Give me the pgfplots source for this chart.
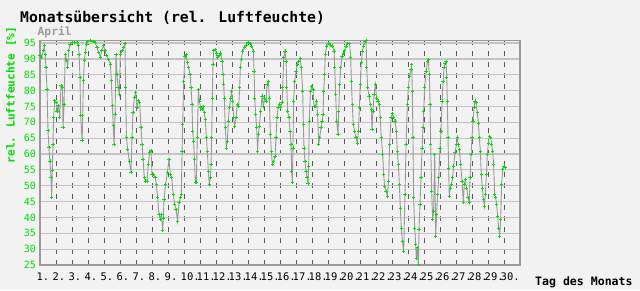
\documentclass[border=0pt]{standalone}
\usepackage{fontspec}
\setmainfont{DejaVu Sans Mono}
\usepackage{pgfplots}
\usepackage{pgfplotstable}
\pgfplotsset{compat=1.18}
\definecolor{bg}{HTML}{F2F2F2}
\definecolor{grn}{HTML}{00DD00}
\definecolor{gridc}{HTML}{C4C4C4}
\definecolor{dashc}{HTML}{5A5A5A}
\definecolor{linec}{HTML}{999999}
\definecolor{framec}{HTML}{999999}
\pgfplotstableread{
x y
1.00 91.0
1.10 90.5
1.21 92.6
1.27 94.2
1.33 91.5
1.37 87.3
1.44 80.3
1.50 67.3
1.56 62.1
1.62 57.8
1.69 52.6
1.73 46.3
1.77 54.7
1.81 63.1
1.85 71.5
1.92 76.8
2.00 76.3
2.06 73.6
2.15 75.2
2.23 71.5
2.31 81.5
2.40 81.0
2.44 68.4
2.50 75.7
2.58 91.5
2.67 89.4
2.73 87.3
2.79 92.6
2.88 94.5
3.00 95.2
3.15 95.2
3.31 95.2
3.40 94.2
3.44 91.5
3.50 84.2
3.54 72.1
3.63 64.2
3.67 72.1
3.71 83.1
3.77 89.4
3.83 92.1
3.90 94.7
3.98 95.6
4.15 95.7
4.31 95.6
4.44 95.2
4.56 93.6
4.67 92.1
4.77 90.5
4.85 92.6
4.98 94.2
5.06 92.6
5.17 91.0
5.27 89.9
5.40 88.4
5.46 83.1
5.52 75.2
5.58 68.9
5.63 63.1
5.69 72.6
5.75 91.5
5.81 85.2
5.88 81.0
5.96 78.9
6.02 91.5
6.13 92.6
6.23 93.6
6.31 94.9
6.35 81.0
6.40 65.2
6.48 61.5
6.58 57.8
6.69 54.2
6.75 65.2
6.81 73.1
6.90 77.8
6.98 79.4
7.06 74.7
7.15 76.8
7.23 76.3
7.31 68.4
7.38 63.1
7.44 58.4
7.52 52.6
7.60 51.5
7.69 51.5
7.77 56.8
7.85 60.5
7.94 61.0
8.00 53.6
8.10 53.6
8.19 52.6
8.27 50.5
8.35 46.3
8.44 41.0
8.52 39.4
8.58 40.9
8.67 35.8
8.71 39.8
8.75 45.6
8.85 50.4
8.96 54.1
9.06 58.3
9.15 53.5
9.23 52.5
9.33 47.2
9.42 44.1
9.50 42.5
9.60 38.8
9.69 44.6
9.77 46.2
9.83 47.2
9.88 60.9
9.92 69.3
9.98 83.0
10.06 90.9
10.13 91.4
10.21 88.8
10.29 87.2
10.38 85.1
10.44 80.9
10.50 75.6
10.54 67.2
10.60 64.1
10.65 58.3
10.71 51.2
10.77 50.9
10.83 65.1
10.90 80.4
10.96 76.7
11.04 74.6
11.13 74.1
11.19 75.1
11.27 73.0
11.33 70.9
11.40 65.1
11.46 60.9
11.52 54.6
11.58 50.4
11.65 52.5
11.69 56.7
11.73 65.1
11.77 77.7
11.81 88.3
11.85 92.7
11.94 93.0
12.02 91.9
12.10 90.4
12.19 91.2
12.29 91.9
12.38 89.3
12.44 85.1
12.48 81.9
12.52 77.7
12.58 68.3
12.65 61.9
12.71 64.1
12.77 70.4
12.83 74.6
12.92 77.7
12.98 79.8
13.04 76.7
13.10 71.4
13.17 68.8
13.25 71.4
13.33 75.6
13.42 75.1
13.48 80.9
13.52 87.2
13.58 89.8
13.67 92.5
13.77 93.5
13.88 94.4
14.00 95.1
14.13 94.8
14.23 94.1
14.33 92.5
14.38 86.2
14.42 77.7
14.48 72.5
14.54 68.3
14.60 60.9
14.65 66.2
14.71 68.8
14.79 73.5
14.88 78.3
14.96 75.1
15.04 77.7
15.13 76.7
15.19 82.0
15.27 83.0
15.33 77.7
15.40 66.2
15.46 60.9
15.52 56.7
15.60 57.7
15.69 59.3
15.75 65.1
15.81 71.4
15.88 74.6
15.96 75.8
16.04 74.6
16.13 76.2
16.17 80.9
16.23 90.4
16.31 92.5
16.38 89.3
16.42 80.9
16.48 73.5
16.56 71.4
16.63 67.2
16.69 63.0
16.73 54.6
16.77 50.9
16.81 61.9
16.85 76.7
16.92 83.0
17.00 86.2
17.08 88.3
17.17 89.3
17.27 90.2
17.33 87.2
17.42 79.8
17.46 69.3
17.50 61.9
17.56 57.7
17.63 54.6
17.69 52.5
17.75 50.6
17.79 56.2
17.83 70.4
17.90 79.8
17.98 81.4
18.06 80.4
18.13 75.1
18.21 75.1
18.29 76.7
18.35 72.5
18.42 63.0
18.48 65.1
18.56 68.3
18.63 70.4
18.69 72.5
18.73 79.8
18.79 85.1
18.83 91.4
18.92 94.1
19.04 94.8
19.17 94.4
19.29 94.1
19.38 92.5
19.42 87.2
19.48 78.8
19.54 70.4
19.63 66.2
19.67 73.5
19.73 82.0
19.79 87.2
19.88 90.9
19.96 91.9
20.04 92.7
20.13 94.1
20.23 94.9
20.35 94.9
20.42 90.4
20.46 83.0
20.52 75.6
20.58 69.3
20.67 67.0
20.75 65.1
20.83 63.5
20.90 67.2
20.96 74.6
21.02 82.0
21.08 88.8
21.15 92.5
21.23 94.1
21.31 95.4
21.38 95.7
21.42 87.2
21.48 80.9
21.56 78.3
21.65 75.6
21.71 74.1
21.75 67.7
21.81 73.5
21.88 78.8
21.96 82.0
22.04 77.7
22.13 76.7
22.21 75.6
22.27 71.4
22.33 65.1
22.42 59.8
22.48 53.5
22.54 49.8
22.63 48.3
22.71 46.7
22.79 51.4
22.85 63.0
22.94 71.4
23.02 72.7
23.10 71.4
23.19 70.4
23.27 67.2
23.33 60.9
23.40 56.7
23.46 50.4
23.52 43.0
23.58 36.7
23.65 32.5
23.73 29.3
23.81 47.2
23.88 63.0
23.96 75.6
24.02 80.9
24.10 84.6
24.19 86.7
24.23 88.3
24.27 79.8
24.31 65.1
24.35 46.2
24.42 36.7
24.48 31.4
24.52 27.2
24.58 30.4
24.65 25.1
24.69 36.2
24.75 44.1
24.81 52.5
24.88 61.9
24.94 68.3
24.98 73.5
25.04 80.9
25.13 86.2
25.21 89.1
25.27 89.8
25.33 85.1
25.38 75.6
25.42 63.0
25.48 48.3
25.54 39.3
25.60 41.9
25.67 59.8
25.73 34.1
25.79 40.9
25.85 47.2
25.92 52.5
26.00 61.9
26.06 67.2
26.13 76.7
26.19 83.0
26.25 87.2
26.31 88.5
26.38 89.1
26.42 84.1
26.46 76.7
26.50 65.1
26.54 55.6
26.58 46.7
26.65 49.3
26.71 50.4
26.79 52.5
26.85 56.2
26.94 60.4
27.02 63.0
27.08 65.3
27.15 63.0
27.21 61.4
27.29 56.7
27.38 51.4
27.46 44.6
27.52 50.4
27.58 51.9
27.67 49.3
27.75 46.2
27.83 44.6
27.88 52.5
27.94 59.8
28.00 65.1
28.06 70.4
28.13 74.6
28.19 76.7
28.25 76.2
28.33 73.0
28.40 69.8
28.46 65.1
28.52 60.9
28.58 53.5
28.65 49.3
28.71 45.6
28.77 43.5
28.83 47.2
28.90 53.5
28.96 59.8
29.02 63.5
29.08 65.6
29.17 65.1
29.23 63.0
29.29 60.9
29.35 56.7
29.42 47.2
29.48 46.2
29.54 44.1
29.60 40.4
29.67 36.7
29.73 34.1
29.79 39.3
29.85 50.4
29.92 55.1
30.00 56.2
30.06 55.8
}\humidity
\begin{document}
\begin{tikzpicture}[x=1bp,y=1bp]
\fill[bg] (0,0) rectangle (640,290);
\useasboundingbox (0,0) rectangle (640,290);
\node[anchor=base west, inner sep=0, font=\fontsize{14.8}{16}\selectfont\bfseries] at (20,267.5) {Monatsübersicht (rel. Luftfeuchte)};
\node[anchor=base west, inner sep=0, text=linec, font=\fontsize{11.3}{13}\selectfont\bfseries] at (37.5,255) {April};
\node[anchor=base west, inner sep=0, font=\fontsize{11.6}{13}\selectfont\bfseries] at (535,4.5) {Tag des Monats};
\begin{axis}[
  at={(40bp,25bp)}, anchor=south west,
  scale only axis, width=480bp, height=224.3bp,
  xmin=1, xmax=31, ymin=25, ymax=95.75,
  axis background/.style={fill=bg},
  axis line style={framec, line width=1.6bp},
  xtick={1,...,30},
  xticklabels={1.,2.,3.,4.,5.,6.,7.,8.,9.,10.,11.,12.,13.,14.,15.,16.,17.,18.,19.,20.,21.,22.,23.,24.,25.,26.,27.,28.,29.,30.},
  ytick={25,30,...,95},
  yticklabels={25,30,35,40,45,50,55,60,65,70,75,80,85,90,95},
  major tick length=0,
  xmajorgrids, ymajorgrids,
  x grid style={dashc, dash pattern=on 5bp off 6bp, line width=0.9bp},
  y grid style={gridc, line width=1.2bp},
  xticklabel style={anchor=north west, xshift=-3.5bp, yshift=-8bp, inner sep=0, font=\fontsize{10.5}{12}\selectfont, text=black},
  yticklabel style={anchor=east, xshift=-4bp, inner sep=0, font=\fontsize{10}{12}\selectfont, text=grn},
  ylabel={rel. Luftfeuchte [\%]},
  ylabel style={at={(axis description cs:-0.0604,0.758)}, anchor=center, font=\fontsize{11.2}{13}\selectfont\bfseries, text=grn},
]
\addplot[linec, line width=0.9bp, mark=+, mark size=1.6bp, mark options={grn, line width=0.8bp, solid}] table[x=x, y=y] {\humidity};
\end{axis}
\end{tikzpicture}
\end{document}
